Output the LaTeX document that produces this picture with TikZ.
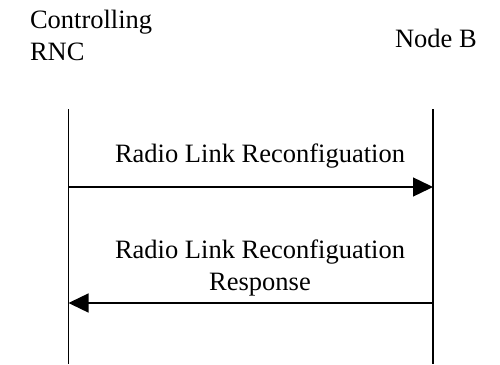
\documentclass[tikz,border=0pt]{standalone}
\usepackage{fontspec}
\setmainfont{Liberation Serif}
\usetikzlibrary{arrows.meta}
\tikzset{
  lbl/.style={font=\fontsize{26.5pt}{31.8pt}\selectfont, inner sep=0pt, outer sep=0pt},
  lifeline/.style={line width=1.4pt},
  msg/.style={line width=1.4pt, -{Triangle[length=20pt,width=19pt]}}
}
\begin{document}
\begin{tikzpicture}[x=1pt,y=-1pt]
\useasboundingbox (0,0) rectangle (500,364);
\node[lbl, align=left, anchor=base west] (rnc) at (30,60) {Controlling\\RNC};
\node[lbl, anchor=base west] (nodeb) at (395,47) {Node B};
\coordinate (Ltop) at (68.5,109);
\coordinate (Lbot) at (68.5,364);
\coordinate (Rtop) at (433,109);
\coordinate (Rbot) at (433,364);
\draw[lifeline] (Ltop) -- (Lbot);
\draw[lifeline] (Rtop) -- (Rbot);
\coordinate (L1) at (68.5,187);
\coordinate (R1) at (433,187);
\coordinate (L2) at (68.5,303);
\coordinate (R2) at (433,303);
\draw[msg] (L1) -- (R1);
\draw[msg] (R2) -- (L2);
\node[lbl, anchor=base] (m1) at (260,162) {Radio Link Reconfiguation};
\node[lbl, align=center, anchor=base] (m2) at (260,290) {Radio Link Reconfiguation\\Response};
\end{tikzpicture}
\end{document}
